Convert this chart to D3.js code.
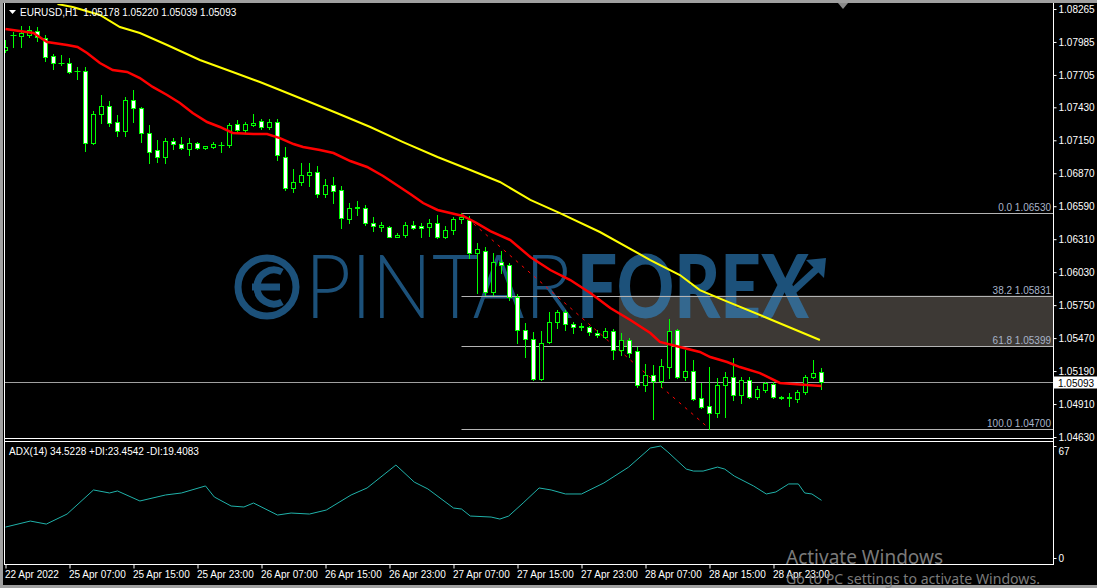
<!DOCTYPE html>
<html>
<head>
<meta charset="utf-8">
<script src="https://cdn.jsdelivr.net/npm/d3@7/dist/d3.min.js"></script>
<style>
  html, body { margin: 0; padding: 0; background: #000; }
  svg { display: block; }
  text { font-family: "Liberation Sans", Arial, sans-serif; }
</style>
</head>
<body>
<div id="chart"></div>
<script>
const W = 1097, H = 588;

// EURUSD H1 bars, 22 Apr 23:00 -> 29 Apr 05:00
const opens = [
  1.07917, 1.08044, 1.08036, 1.08044, 1.08078, 1.08019, 1.07866, 1.07806, 1.07806, 1.07738,
  1.07738, 1.07127, 1.07373, 1.07441, 1.07305, 1.07229, 1.07492, 1.07424, 1.07212, 1.07067,
  1.07008, 1.07144, 1.07118, 1.07076, 1.07127, 1.07084, 1.07093, 1.07110, 1.07110, 1.07288,
  1.07237, 1.07280, 1.07314, 1.07263, 1.07305, 1.07008, 1.06745, 1.06796, 1.06855, 1.06881,
  1.06694, 1.06770, 1.06728, 1.06481, 1.06575, 1.06575, 1.06447, 1.06413, 1.06413, 1.06329,
  1.06346, 1.06430, 1.06422, 1.06413, 1.06447, 1.06329, 1.06388, 1.06481, 1.06473, 1.06193,
  1.06210, 1.05861, 1.06116, 1.06091, 1.05819, 1.05539, 1.05462, 1.05123, 1.05437, 1.05607,
  1.05692, 1.05590, 1.05564, 1.05564, 1.05513, 1.05479, 1.05530, 1.05369, 1.05454, 1.05360,
  1.05072, 1.05157, 1.05106, 1.05224, 1.05539, 1.05140, 1.05191, 1.04961, 1.04893, 1.04834,
  1.05072, 1.05140, 1.04987, 1.05114, 1.04970, 1.05029, 1.05080, 1.04961, 1.04961, 1.04953,
  1.05012, 1.05140, 1.05178
];
const highs = [
  1.08002, 1.08070, 1.08121, 1.08121, 1.08112, 1.08044, 1.07883, 1.07874, 1.07849, 1.07772,
  1.07772, 1.07399, 1.07535, 1.07484, 1.07365, 1.07518, 1.07577, 1.07433, 1.07280, 1.07152,
  1.07169, 1.07169, 1.07178, 1.07169, 1.07135, 1.07105, 1.07135, 1.07135, 1.07297, 1.07322,
  1.07305, 1.07373, 1.07331, 1.07331, 1.07331, 1.07093, 1.06906, 1.06957, 1.06957, 1.06932,
  1.06821, 1.06838, 1.06762, 1.06617, 1.06634, 1.06600, 1.06498, 1.06456, 1.06422, 1.06363,
  1.06456, 1.06464, 1.06447, 1.06481, 1.06515, 1.06422, 1.06498, 1.06530, 1.06507, 1.06278,
  1.06244, 1.06193, 1.06210, 1.06108, 1.05844, 1.05598, 1.05522, 1.05530, 1.05692, 1.05709,
  1.05709, 1.05607, 1.05598, 1.05573, 1.05539, 1.05556, 1.05547, 1.05513, 1.05471, 1.05394,
  1.05250, 1.05241, 1.05292, 1.05632, 1.05547, 1.05369, 1.05284, 1.05089, 1.05224, 1.05131,
  1.05182, 1.05301, 1.05140, 1.05140, 1.05063, 1.05097, 1.05097, 1.04978, 1.05004, 1.05029,
  1.05157, 1.05284, 1.05220
];
const lows = [
  1.07900, 1.07942, 1.07942, 1.08027, 1.07993, 1.07823, 1.07755, 1.07789, 1.07721, 1.07670,
  1.07059, 1.07118, 1.07297, 1.07271, 1.07186, 1.07186, 1.07305, 1.07135, 1.06957, 1.06966,
  1.06957, 1.07076, 1.07076, 1.07025, 1.07076, 1.07080, 1.07084, 1.07050, 1.07093, 1.07212,
  1.07220, 1.07271, 1.07246, 1.07246, 1.06983, 1.06728, 1.06711, 1.06770, 1.06762, 1.06668,
  1.06668, 1.06617, 1.06405, 1.06447, 1.06515, 1.06430, 1.06379, 1.06379, 1.06325, 1.06325,
  1.06329, 1.06396, 1.06329, 1.06337, 1.06320, 1.06320, 1.06354, 1.06447, 1.06150, 1.05853,
  1.05836, 1.05836, 1.06023, 1.05794, 1.05428, 1.05309, 1.05114, 1.05114, 1.05428, 1.05556,
  1.05539, 1.05513, 1.05539, 1.05496, 1.05479, 1.05475, 1.05292, 1.05326, 1.05309, 1.05055,
  1.05021, 1.04783, 1.05055, 1.05131, 1.05131, 1.05114, 1.04944, 1.04876, 1.04700, 1.04800,
  1.04800, 1.04944, 1.04919, 1.04961, 1.04953, 1.05012, 1.04961, 1.04953, 1.04893, 1.04927,
  1.04995, 1.05131, 1.05039
];
const closes = [
  1.07942, 1.08048, 1.08061, 1.08087, 1.08027, 1.07857, 1.07806, 1.07810, 1.07730, 1.07742,
  1.07127, 1.07373, 1.07441, 1.07297, 1.07229, 1.07492, 1.07424, 1.07212, 1.07050, 1.07008,
  1.07144, 1.07118, 1.07084, 1.07127, 1.07084, 1.07101, 1.07118, 1.07114, 1.07280, 1.07237,
  1.07288, 1.07297, 1.07263, 1.07305, 1.07025, 1.06745, 1.06796, 1.06855, 1.06881, 1.06694,
  1.06770, 1.06719, 1.06490, 1.06575, 1.06580, 1.06447, 1.06422, 1.06430, 1.06329, 1.06346,
  1.06430, 1.06405, 1.06405, 1.06447, 1.06329, 1.06388, 1.06481, 1.06498, 1.06193, 1.06227,
  1.05861, 1.06116, 1.06091, 1.05819, 1.05539, 1.05462, 1.05123, 1.05428, 1.05607, 1.05692,
  1.05590, 1.05564, 1.05573, 1.05522, 1.05496, 1.05530, 1.05369, 1.05454, 1.05343, 1.05072,
  1.05157, 1.05106, 1.05233, 1.05530, 1.05140, 1.05191, 1.04953, 1.04885, 1.04834, 1.05072,
  1.05140, 1.04987, 1.05114, 1.04970, 1.05038, 1.05089, 1.04970, 1.04966, 1.04966, 1.05012,
  1.05140, 1.05173, 1.05093
];

// moving averages: [bar, price]
const maRed = [
  [0, 1.08095], [3.5, 1.08061], [5.2, 1.07985], [7.7, 1.07959], [9, 1.07942], [10.2, 1.07891],
  [11.8, 1.07806], [13.4, 1.07747], [15.2, 1.07730], [16.8, 1.07679], [18.4, 1.07603],
  [20.2, 1.07535], [21.8, 1.07467], [23.4, 1.07382], [25.2, 1.07305], [26.8, 1.07263],
  [28.4, 1.07212], [31, 1.07203], [32.7, 1.07203], [34.3, 1.07169], [36, 1.07118],
  [37.2, 1.07093], [39.3, 1.07067], [41, 1.07042], [43.1, 1.06974], [45.2, 1.06923],
  [47.2, 1.06847], [48.9, 1.06770], [50.6, 1.06694], [52.2, 1.06617], [54, 1.06558],
  [55.6, 1.06532], [57.2, 1.06507], [58.9, 1.06447], [60.6, 1.06379], [63.1, 1.06303],
  [65.6, 1.06159], [68.1, 1.06048], [70.6, 1.05963], [73.1, 1.05853], [75.6, 1.05726],
  [78.1, 1.05624], [80.6, 1.05513], [81.8, 1.05437], [84.3, 1.05394], [86.8, 1.05352],
  [88.1, 1.05309], [90.2, 1.05267], [91.8, 1.05224], [94.3, 1.05173], [96.8, 1.05089],
  [100.2, 1.05072], [102, 1.05063]
];
const maYellow = [
  [6.5, 1.08307], [8.4, 1.08282], [11.8, 1.08214], [14.3, 1.08112], [16.8, 1.08061],
  [20.2, 1.07959], [24.3, 1.07832], [28.4, 1.07730], [31.8, 1.07645], [34.3, 1.07577],
  [37.4, 1.07492], [41.4, 1.07382], [45.6, 1.07263], [49.7, 1.07135], [54, 1.07008],
  [58.1, 1.06898], [61.8, 1.06796], [65.6, 1.06643], [69.3, 1.06532], [74.3, 1.06371],
  [80.6, 1.06133], [84.3, 1.06006], [86.8, 1.05878], [89.7, 1.05794], [95.2, 1.05641],
  [101.8, 1.05454]
];

// ADX(14) main line: [bar, value]
const adxLine = [
  [0, 18.5], [3.1, 22.1], [5.1, 20.3], [7.7, 26.3], [11, 40.7], [13, 38.9], [14, 40.1],
  [16.8, 34.1], [20, 37.7], [22, 38.9], [25, 43.1], [26.1, 36.5], [28.2, 31.1], [29.8, 30.5],
  [31, 32.9], [34, 25.7], [35.7, 26.9], [38, 26.3], [40.1, 28.7], [43.2, 37.7], [45.2, 41.9],
  [48.8, 55.6], [51.1, 45.4], [52.8, 41.3], [56, 29.9], [57, 29.3], [58.1, 25.1], [60.7, 24.5],
  [61.8, 23.3], [62.9, 25.1], [64.7, 32.9], [66.7, 41.9], [68.2, 40.7], [70, 38.3], [72, 38.3],
  [74.8, 44.9], [77.9, 54.4], [80.6, 65.8], [81.9, 67.0], [82.8, 63.4], [85.1, 53.2], [86, 52.0],
  [87.2, 52.0], [89, 54.4], [89.9, 53.2], [91.1, 49.0], [93.5, 43.1], [95.1, 38.3], [96.3, 39.5],
  [97.9, 44.3], [99.1, 44.3], [99.9, 38.9], [100.8, 38.3], [102, 34.5]
];

const priceTicks = [1.08265, 1.07985, 1.07705, 1.07430, 1.07150, 1.06870, 1.06590,
  1.06310, 1.06030, 1.05750, 1.05470, 1.05190, 1.04910, 1.04630];
const adxTicks = [0, 67];
const timeBars = [0, 8, 16, 24, 32, 40, 48, 56, 64, 72, 80, 88, 96];
const timeLabels = ["22 Apr 2022", "25 Apr 07:00", "25 Apr 15:00", "25 Apr 23:00",
  "26 Apr 07:00", "26 Apr 15:00", "26 Apr 23:00", "27 Apr 07:00", "27 Apr 15:00",
  "27 Apr 23:00", "28 Apr 07:00", "28 Apr 15:00", "28 Apr 23:00"];

// fibonacci retracement drawn from the swing high to the swing low
const fibNames = ["0.0", "38.2", "61.8", "100.0"];
const fibPrices = [1.06530, 1.05831, 1.05399, 1.04700];
const fibBars = [57, 88];
const zoneStartBar = 76.7;
const lastPrice = 1.05093;

const x = d3.scaleLinear().domain([0, 102]).range([5.5, 821.5]);
const y = d3.scaleLinear().domain([1.04630, 1.08265]).range([437, 9]);
const ya = d3.scaleLinear().domain([0, 67]).range([558, 446]);
const py = v => Math.round(y(v)) + 0.5;

const AXIS_X = 1053.5;
const GREEN = '#00ff00';

const svg = d3.select('#chart').append('svg')
  .attr('width', W).attr('height', H)
  .style('background', '#000');

svg.append('defs').append('clipPath').attr('id', 'main-clip')
  .append('rect').attr('x', 5).attr('y', 4).attr('width', 1048).attr('height', 434);

const main = svg.append('g').attr('clip-path', 'url(#main-clip)');

// fib 38.2-61.8 zone
main.append('rect')
  .attr('x', x(zoneStartBar)).attr('y', y(fibPrices[1]))
  .attr('width', AXIS_X - x(zoneStartBar))
  .attr('height', y(fibPrices[2]) - y(fibPrices[1]))
  .attr('fill', '#3d3935');

// watermark
const wm = main.append('g').attr('opacity', 0.6).attr('fill', '#2f88cc').attr('stroke', '#2f88cc');
wm.append('circle').attr('cx', 267).attr('cy', 287).attr('r', 29)
  .attr('fill', 'none').attr('stroke-width', 7);
wm.append('path')
  .attr('d', 'M282,272 A17,17 0 1,0 282,302 M252,287 L280,287')
  .attr('fill', 'none').attr('stroke-width', 7);
wm.append('text').attr('x', 305).attr('y', 318)
  .attr('stroke', 'none')
  .style('font-family', 'Lato, sans-serif').style('font-weight', 300).style('font-size', '88px')
  .attr('textLength', 268).attr('lengthAdjust', 'spacingAndGlyphs')
  .text('PINTAR');
wm.append('text').attr('x', 577).attr('y', 318)
  .attr('stroke', 'none')
  .style('font-family', 'Lato, sans-serif').style('font-weight', 900).style('font-size', '88px')
  .attr('textLength', 232).attr('lengthAdjust', 'spacingAndGlyphs')
  .text('FOREX');
wm.append('path').attr('d', 'M792,292 L818,268').attr('stroke-width', 7).attr('fill', 'none');
wm.append('path').attr('d', 'M806,260 L826,258 L824,278 Z').attr('stroke', 'none');

// fib levels
fibPrices.forEach((p, k) => {
  main.append('line')
    .attr('x1', x(fibBars[0])).attr('x2', AXIS_X)
    .attr('y1', py(p)).attr('y2', py(p))
    .attr('stroke', '#b4b4b4').attr('stroke-width', 1);
  main.append('text')
    .attr('x', 1051).attr('y', py(p) - 3)
    .attr('text-anchor', 'end')
    .attr('fill', '#a8b4c8').style('font-size', '10px')
    .text(fibNames[k] + ' ' + p.toFixed(5));
});
main.append('line')
  .attr('x1', x(fibBars[0])).attr('y1', y(fibPrices[0]))
  .attr('x2', x(fibBars[1])).attr('y2', y(fibPrices[3]))
  .attr('stroke', '#ff0000').attr('stroke-width', 1).attr('stroke-dasharray', '3,5');

// last price line
main.append('line')
  .attr('x1', 5).attr('x2', AXIS_X)
  .attr('y1', py(lastPrice)).attr('y2', py(lastPrice))
  .attr('stroke', '#a0a0a0').attr('stroke-width', 1);

// candles
const bars = d3.range(opens.length).map(i => ({
  i, o: opens[i], h: highs[i], l: lows[i], c: closes[i]
}));
const cg = main.append('g');
cg.selectAll('line.wick').data(bars).enter().append('line')
  .attr('class', 'wick')
  .attr('x1', d => x(d.i)).attr('x2', d => x(d.i))
  .attr('y1', d => Math.round(y(d.h))).attr('y2', d => Math.round(y(d.l)) + 1)
  .attr('stroke', GREEN);
bars.forEach(d => {
  const top = py(Math.max(d.o, d.c));
  const bot = py(Math.min(d.o, d.c));
  if (bot - top < 1) {
    cg.append('line')
      .attr('x1', x(d.i) - 3).attr('x2', x(d.i) + 3)
      .attr('y1', top).attr('y2', top)
      .attr('stroke', GREEN);
  } else {
    cg.append('rect')
      .attr('x', x(d.i) - 2).attr('y', top)
      .attr('width', 4).attr('height', bot - top)
      .attr('fill', d.c > d.o ? '#000' : '#fff')
      .attr('stroke', GREEN).attr('stroke-width', 1);
  }
});

// moving averages
const maLine = d3.line().x(d => x(d[0])).y(d => y(d[1]));
main.append('path').datum(maYellow).attr('d', maLine)
  .attr('fill', 'none').attr('stroke', '#ffff00').attr('stroke-width', 2);
main.append('path').datum(maRed).attr('d', maLine)
  .attr('fill', 'none').attr('stroke', '#ff0000').attr('stroke-width', 2.5);

// ADX
svg.append('path').datum(adxLine)
  .attr('d', d3.line().x(d => x(d[0])).y(d => ya(d[1])))
  .attr('fill', 'none').attr('stroke', '#20b2aa').attr('stroke-width', 1);

// frames
const frame = svg.append('g').attr('stroke', '#fff').attr('stroke-width', 1);
frame.append('line').attr('x1', 4.5).attr('x2', 4.5).attr('y1', 3).attr('y2', 565);
frame.append('line').attr('x1', 4).attr('x2', AXIS_X).attr('y1', 438.5).attr('y2', 438.5);
frame.append('line').attr('x1', 4).attr('x2', AXIS_X).attr('y1', 441.5).attr('y2', 441.5);
frame.append('line').attr('x1', 4).attr('x2', AXIS_X).attr('y1', 564.5).attr('y2', 564.5);

svg.append('rect').attr('x', 0).attr('y', 0).attr('width', W).attr('height', 3).attr('fill', '#a0a0a0');
svg.append('rect').attr('x', 0).attr('y', 0).attr('width', 3).attr('height', H).attr('fill', '#a0a0a0');
svg.append('rect').attr('x', 0).attr('y', 585).attr('width', W).attr('height', 3).attr('fill', '#a0a0a0');
svg.append('path').attr('d', 'M838,3 L848,3 L843,9 Z').attr('fill', '#8a8a8a');

// price axis
const yAxis = svg.append('g').attr('transform', `translate(${AXIS_X},0)`)
  .call(d3.axisRight(y).tickValues(priceTicks).tickFormat(d3.format('.5f'))
    .tickSize(3).tickPadding(2).tickSizeOuter(0));
yAxis.select('.domain').attr('stroke', '#fff').attr('d', 'M0,3V565');
yAxis.selectAll('.tick line').attr('stroke', '#fff');
yAxis.selectAll('.tick text').attr('fill', '#fff')
  .style('font-family', '"Liberation Sans", Arial, sans-serif').style('font-size', '10px');

// last price marker
svg.append('rect').attr('x', 1054).attr('y', py(lastPrice) - 6)
  .attr('width', 43).attr('height', 12).attr('fill', '#fff');
svg.append('text').attr('x', 1058).attr('y', py(lastPrice) + 4)
  .attr('fill', '#000').style('font-size', '10px').text(lastPrice.toFixed(5));

// ADX axis
const aAxis = svg.append('g').attr('transform', `translate(${AXIS_X},0)`)
  .call(d3.axisRight(ya).tickValues(adxTicks).tickSize(3).tickPadding(2).tickSizeOuter(0));
aAxis.select('.domain').remove();
aAxis.selectAll('.tick line').attr('stroke', '#fff');
aAxis.selectAll('.tick text').attr('fill', '#fff')
  .attr('dy', d => d === 0 ? '0.32em' : '0.85em')
  .style('font-family', '"Liberation Sans", Arial, sans-serif').style('font-size', '10px');

// time axis
const xAxis = svg.append('g').attr('transform', 'translate(0,564.5)')
  .call(d3.axisBottom(x).tickValues(timeBars)
    .tickFormat((d, k) => timeLabels[k]).tickSize(4).tickPadding(2).tickSizeOuter(0));
xAxis.select('.domain').remove();
xAxis.selectAll('.tick line').attr('stroke', '#fff');
xAxis.selectAll('.tick text').attr('fill', '#fff').attr('text-anchor', 'start').attr('dx', -1)
  .style('font-family', '"Liberation Sans", Arial, sans-serif').style('font-size', '10px');

// headers
svg.append('path').attr('d', 'M9,10 L16,10 L12.5,14 Z').attr('fill', '#fff');
svg.append('text').attr('x', 20).attr('y', 16).attr('fill', '#fff').style('font-size', '10px')
  .attr('xml:space', 'preserve')
  .text('EURUSD,H1  ' + [opens[102], highs[102], lows[102], closes[102]].map(v => v.toFixed(5)).join(' '));
svg.append('text').attr('x', 9).attr('y', 455).attr('fill', '#fff').style('font-size', '10px')
  .text('ADX(14) 34.5228 +DI:23.4542 -DI:19.4083');

// OS activation overlay
svg.append('text').attr('x', 786).attr('y', 564).attr('fill', '#7a7a7a')
  .style('font-family', '"Noto Sans", sans-serif').style('font-size', '19px')
  .attr('textLength', 157).attr('lengthAdjust', 'spacingAndGlyphs')
  .text('Activate Windows');
svg.append('text').attr('x', 786).attr('y', 584).attr('fill', '#7a7a7a')
  .style('font-family', '"Noto Sans", sans-serif').style('font-size', '13.5px')
  .attr('textLength', 254).attr('lengthAdjust', 'spacingAndGlyphs')
  .text('Go to PC settings to activate Windows.');
</script>
</body>
</html>
